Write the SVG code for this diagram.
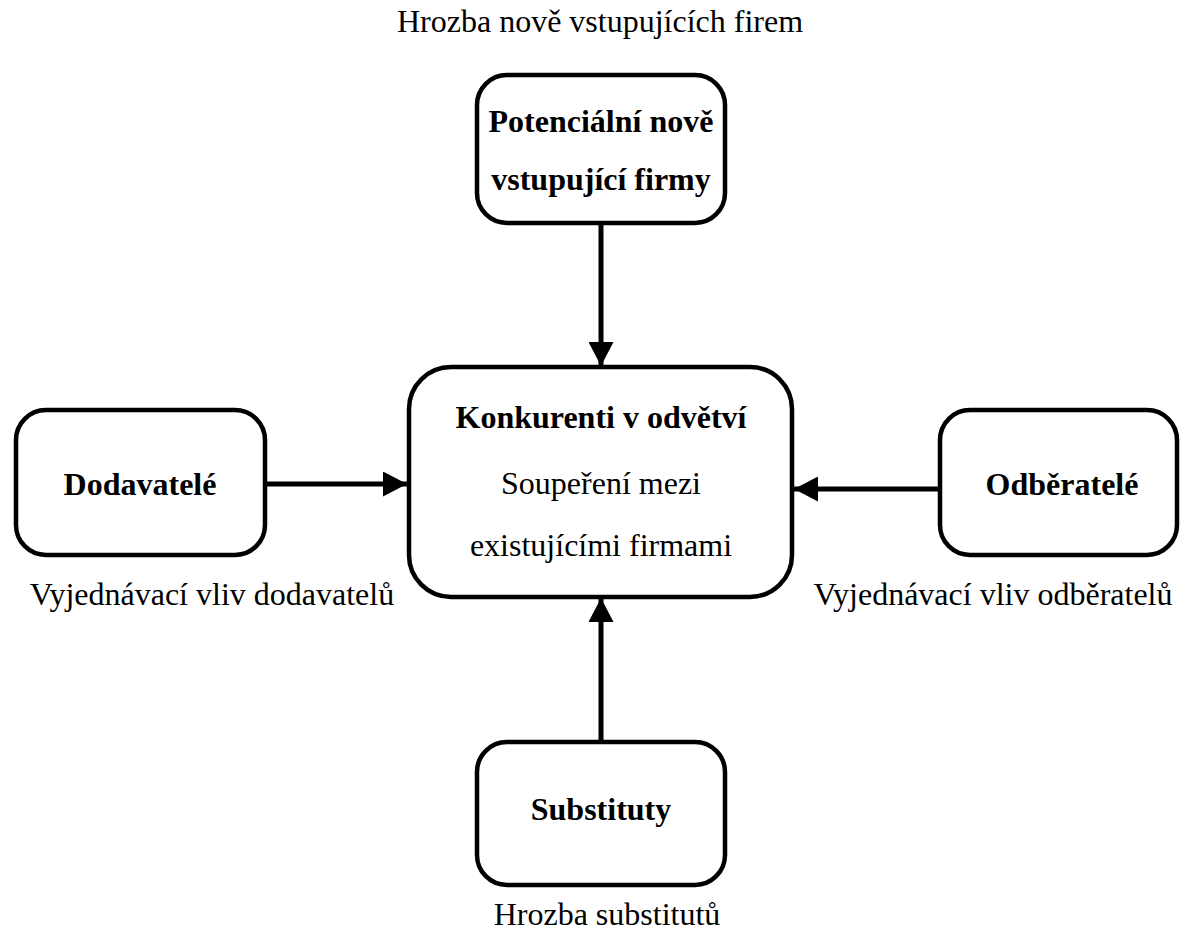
<svg xmlns="http://www.w3.org/2000/svg" width="1180" height="940" viewBox="0 0 1180 940">
  <style>
    .box { fill: #ffffff; stroke: #000000; stroke-width: 4.5; }
    .conn { stroke: #000000; stroke-width: 5; fill: none; }
    .b { font-family: "Liberation Serif", "Times New Roman", serif; font-weight: bold; font-size: 32px; fill: #000; text-anchor: middle; }
    .r { font-family: "Liberation Serif", "Times New Roman", serif; font-size: 32px; fill: #000; text-anchor: middle; }
  </style>
  <defs>
    <marker id="ah" markerUnits="userSpaceOnUse" markerWidth="24" markerHeight="25" refX="24" refY="12.5" orient="auto">
      <path d="M0,0 L24,12.5 L0,25 Z" fill="#000"/>
    </marker>
  </defs>
  <rect width="1180" height="940" fill="#ffffff"/>

  <g id="connectors">
    <line class="conn" x1="601" y1="223" x2="601" y2="366" marker-end="url(#ah)"/>
    <line class="conn" x1="601" y1="742" x2="601" y2="598" marker-end="url(#ah)"/>
    <line class="conn" x1="266" y1="484" x2="407" y2="484" marker-end="url(#ah)"/>
    <line class="conn" x1="940" y1="489" x2="794" y2="489" marker-end="url(#ah)"/>
  </g>

  <g id="label-top">
    <text class="r" x="600" y="32">Hrozba nově vstupujících firem</text>
  </g>

  <g id="node-entrants">
    <rect class="box" x="477" y="75" width="248" height="148" rx="30" ry="30"/>
    <text class="b" x="601" y="132">Potenciální nově</text>
    <text class="b" x="601" y="190">vstupující firmy</text>
  </g>

  <g id="node-competitors">
    <rect class="box" x="409" y="367" width="383" height="230" rx="42" ry="42"/>
    <text class="b" x="601" y="428">Konkurenti v odvětví</text>
    <text class="r" x="601" y="494">Soupeření mezi</text>
    <text class="r" x="601" y="556">existujícími firmami</text>
  </g>

  <g id="node-suppliers">
    <rect class="box" x="16" y="410" width="249" height="145" rx="30" ry="30"/>
    <text class="b" x="140" y="495">Dodavatelé</text>
  </g>
  <g id="label-suppliers">
    <text class="r" x="212" y="605">Vyjednávací vliv dodavatelů</text>
  </g>

  <g id="node-buyers">
    <rect class="box" x="940" y="410" width="237" height="145" rx="30" ry="30"/>
    <text class="b" x="1062" y="495">Odběratelé</text>
  </g>
  <g id="label-buyers">
    <text class="r" x="993" y="605">Vyjednávací vliv odběratelů</text>
  </g>

  <g id="node-substitutes">
    <rect class="box" x="477" y="742" width="248" height="143" rx="30" ry="30"/>
    <text class="b" x="601" y="820">Substituty</text>
  </g>
  <g id="label-bottom">
    <text class="r" x="607" y="925">Hrozba substitutů</text>
  </g>
</svg>
